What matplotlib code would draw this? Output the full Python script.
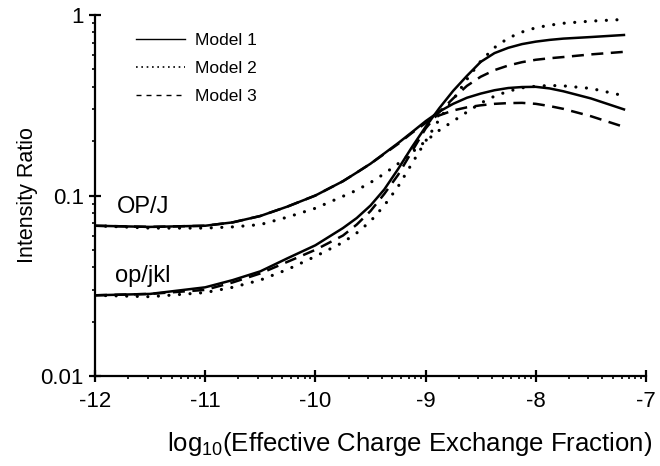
import numpy as np
import matplotlib
matplotlib.use("Agg")
import matplotlib.pyplot as plt
from matplotlib.lines import Line2D
from matplotlib.ticker import FixedLocator, FixedFormatter, LogLocator, NullFormatter

plt.rcParams['font.family'] = ['Liberation Sans', 'DejaVu Sans']
plt.rcParams['mathtext.fontset'] = 'custom'
plt.rcParams['mathtext.rm'] = 'Liberation Sans'
plt.rcParams['mathtext.it'] = 'Liberation Sans:italic'
plt.rcParams['axes.unicode_minus'] = False

# ---- data ----
x_vals = [-12, -11.5, -11, -10.75, -10.5, -10.25, -10, -9.75, -9.625, -9.5,
          -9.375, -9.25, -9.125, -9, -8.875, -8.75, -8.625, -8.5, -8.375, -8.25,
          -8.125, -8, -7.875, -7.75, -7.5, -7.2]

opj_model1 = [0.068, 0.067, 0.068, 0.071, 0.077, 0.087, 0.100, 0.120, 0.134, 0.150,
              0.171, 0.195, 0.224, 0.258, 0.292, 0.322, 0.348, 0.367, 0.383, 0.394,
              0.399, 0.400, 0.392, 0.378, 0.345, 0.300]
opj_model2 = [0.068, 0.066, 0.066, 0.067, 0.069, 0.076, 0.085, 0.099, 0.107, 0.118,
              0.132, 0.150, 0.173, 0.200, 0.230, 0.258, 0.290, 0.325, 0.355, 0.378,
              0.395, 0.403, 0.407, 0.405, 0.392, 0.357]
opj_model3 = [0.068, 0.067, 0.068, 0.071, 0.077, 0.087, 0.100, 0.120, 0.134, 0.150,
              0.170, 0.193, 0.222, 0.252, 0.278, 0.296, 0.308, 0.316, 0.322, 0.325,
              0.326, 0.322, 0.313, 0.302, 0.275, 0.240]

opjkl_model1 = [0.028, 0.0285, 0.031, 0.034, 0.038, 0.045, 0.053, 0.066, 0.075, 0.088,
                0.108, 0.140, 0.185, 0.240, 0.305, 0.380, 0.460, 0.550, 0.615, 0.658,
                0.690, 0.712, 0.728, 0.740, 0.755, 0.775]
opjkl_model2 = [0.028, 0.0275, 0.029, 0.031, 0.034, 0.039, 0.046, 0.055, 0.062, 0.072,
                0.088, 0.112, 0.150, 0.200, 0.265, 0.340, 0.440, 0.555, 0.660, 0.745,
                0.805, 0.850, 0.878, 0.900, 0.925, 0.945]
opjkl_model3 = [0.028, 0.0285, 0.030, 0.033, 0.037, 0.043, 0.050, 0.060, 0.069, 0.082,
                0.102, 0.130, 0.175, 0.235, 0.290, 0.345, 0.405, 0.455, 0.495, 0.525,
                0.548, 0.565, 0.576, 0.585, 0.605, 0.625]

model_labels = ["Model 1", "Model 2", "Model 3"]
x_ticks = [-12, -11, -10, -9, -8, -7]
y_ticks = [0.01, 0.1, 1]
y_tick_labels = ["0.01", "0.1", "1"]

# ---- styles ----
lw = 1.8
styles = [dict(linestyle='-'),
          dict(linestyle=(0, (0.01, 3.3)), dash_capstyle='round', lw=2.3),
          dict(linestyle=(0, (4.8, 3.0)), dash_capstyle='butt')]

fig = plt.figure(figsize=(6.6, 4.66), dpi=100)
ax = fig.add_axes([0.1439, 0.1931, 0.8349, 0.7747])

for group in ([opj_model1, opj_model2, opj_model3],
              [opjkl_model1, opjkl_model2, opjkl_model3]):
    for series, st in zip(group, styles):
        kw = dict(color='black', lw=lw, solid_joinstyle='round')
        kw.update(st)
        ax.plot(x_vals, series, **kw)

ax.set_yscale('log')
ax.set_xlim(-12, -7)
ax.set_ylim(0.01, 1)

for side in ['top', 'right']:
    ax.spines[side].set_visible(False)
for side in ['left', 'bottom']:
    ax.spines[side].set_linewidth(1.6)

ax.xaxis.set_major_locator(FixedLocator(x_ticks))
ax.xaxis.set_major_formatter(FixedFormatter([str(t) for t in x_ticks]))
minor_x = [n + np.log10(k) for n in range(-12, -7) for k in range(2, 10)]
ax.xaxis.set_minor_locator(FixedLocator(minor_x))

ax.yaxis.set_major_locator(FixedLocator(y_ticks))
ax.yaxis.set_major_formatter(FixedFormatter(y_tick_labels))
ax.yaxis.set_minor_locator(LogLocator(base=10, subs=np.arange(2, 10)))
ax.yaxis.set_minor_formatter(NullFormatter())

ax.tick_params(axis='both', which='major', direction='inout', length=8, width=1.6,
               labelsize=16)
ax.tick_params(axis='x', which='major', pad=7)
ax.tick_params(axis='y', which='major', pad=4)
ax.tick_params(axis='both', which='minor', direction='out', length=2.5, width=1.2)

ax.set_ylabel('Intensity Ratio', fontsize=15.5, labelpad=2)
ax.set_xlabel(r'log$_{\mathregular{10}}$(Effective Charge Exchange Fraction)', fontsize=18.5,
              ha='right', va='top')
ax.xaxis.set_label_coords(1.012, -0.15)

ax.text(-11.8, 0.086, 'OP/J', fontsize=17, va='center', ha='left')
ax.text(-11.82, 0.036, 'op/jkl', fontsize=17, va='center', ha='left')

handles = [Line2D([], [], color='black', lw=1.0, linestyle='-'),
           Line2D([], [], color='black', lw=1.2, linestyle=(0, (1, 2.2))),
           Line2D([], [], color='black', lw=1.0, linestyle=(0, (3.6, 3.6)))]
ax.legend(handles, model_labels, loc='upper left', bbox_to_anchor=(0.047, 0.995),
          frameon=False, fontsize=12.5, handlelength=2.8, handletextpad=0.57,
          labelspacing=0.75)

fig.savefig('out.png', dpi=100)
